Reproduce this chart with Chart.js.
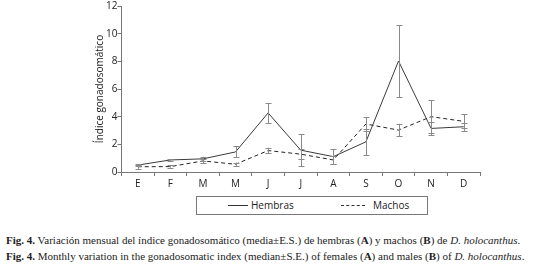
<!DOCTYPE html>
<html lang="es">
<head>
<meta charset="UTF-8">
<title>Índice gonadosomático</title>
<script src="https://cdn.jsdelivr.net/npm/chart.js"></script>
<style>
  body { margin: 0; background: #fff; width: 553px; height: 268px; overflow: hidden; position: relative; }
  #wrap { position: absolute; left: 0; top: 0; width: 553px; height: 192px; }
  .legend { position: absolute; left: 196px; top: 196px; width: 230px; height: 17px; border: 1px solid #777;
            font-family: "Open Sans", sans-serif; font-size: 10px; color: #222; }
  .legend span { position: absolute; top: 1px; }
  .legend i { position: absolute; top: 8px; width: 20px; border-top: 1px solid #333; }
  .caption { position: absolute; left: 6px; font-family: "Liberation Serif", serif; font-size: 11px; color: #222; white-space: nowrap; }
</style>
</head>
<body>
<div id="wrap"><canvas id="igs"></canvas></div>
<div class="legend">
  <i style="left:31px"></i><span style="left:54px">Hembras</span>
  <i style="left:144px;width:24px;border-top-style:dashed"></i><span style="left:176px">Machos</span>
</div>
<div class="caption" style="top:234px"><b>Fig. 4.</b> Variación mensual del índice gonadosomático (media±E.S.) de hembras (<b>A</b>) y machos (<b>B</b>) de <i>D. holocanthus</i>.</div>
<div class="caption" style="top:250px"><b>Fig. 4.</b> Monthly variation in the gonadosomatic index (median±S.E.) of females (<b>A</b>) and males (<b>B</b>) of <i>D. holocanthus</i>.</div>

<script>
const meses = ['E', 'F', 'M', 'M', 'J', 'J', 'A', 'S', 'O', 'N', 'D'];
const hembras = [0.5, 0.87, 0.95, 1.45, 4.27, 1.58, 1.11, 2.18, 8.02, 3.15, 3.27];
const hembrasErr = [0.08, 0.05, 0.15, 0.4, 0.72, 1.17, 0.55, 0.95, 2.6, 0.5, 0.3];
const machos = [0.38, 0.39, 0.8, 0.56, 1.55, 1.29, 0.87, 3.47, 3.03, 4.0, 3.66];
const machosErr = [0.15, 0.08, 0.15, 0.12, 0.2, 0.35, 0.3, 0.5, 0.45, 1.2, 0.5];
const yTicks = [0, 2, 4, 6, 8, 10, 12];

// barras de error con las escalas del grafico
const errorBars = {
  id: 'errorBars',
  afterDatasetsDraw(chart) {
    const ctx = chart.ctx;
    const y = chart.scales.y;
    chart.data.datasets.forEach((ds, di) => {
      const meta = chart.getDatasetMeta(di);
      ctx.save();
      ctx.strokeStyle = '#8a8a8a';
      ctx.lineWidth = 1;
      meta.data.forEach((pt, i) => {
        const v = ds.data[i], e = ds.err[i];
        const top = y.getPixelForValue(v + e), bot = y.getPixelForValue(v - e);
        const x = Math.round(pt.x) + 0.5;
        ctx.beginPath();
        ctx.moveTo(x, top); ctx.lineTo(x, bot);
        ctx.moveTo(x - 3, Math.round(top) + 0.5); ctx.lineTo(x + 3, Math.round(top) + 0.5);
        ctx.moveTo(x - 3, Math.round(bot) + 0.5); ctx.lineTo(x + 3, Math.round(bot) + 0.5);
        ctx.stroke();
      });
      ctx.restore();
    });
  }
};

new Chart(document.getElementById('igs'), {
  type: 'line',
  data: {
    labels: meses,
    datasets: [
      { label: 'Hembras', data: hembras, err: hembrasErr, borderColor: '#3a3a3a', borderWidth: 1, pointRadius: 0, tension: 0 },
      { label: 'Machos', data: machos, err: machosErr, borderColor: '#222', borderWidth: 1, borderDash: [4, 3], pointRadius: 0, tension: 0 }
    ]
  },
  options: {
    responsive: true,
    maintainAspectRatio: false,
    animation: false,
    layout: { padding: { left: 94, right: 73, top: 0, bottom: 0 } },
    plugins: { legend: { display: false }, tooltip: { enabled: false } },
    scales: {
      x: {
        offset: true,
        grid: { offset: true, drawOnChartArea: false, tickLength: 4, color: '#777' },
        border: { color: '#777' },
        ticks: { color: '#222', font: { family: 'Open Sans', size: 10 }, padding: 2 }
      },
      y: {
        min: 0, max: 12,
        afterBuildTicks: axis => { axis.ticks = yTicks.map(v => ({ value: v })); },
        grid: { drawOnChartArea: false, tickLength: 4, color: '#777' },
        border: { color: '#777' },
        ticks: { color: '#222', font: { family: 'Open Sans', size: 10 }, padding: 0 },
        title: { display: true, text: 'Índice gonadosomático', color: '#222', font: { family: 'Open Sans', size: 10 }, padding: 0 }
      }
    }
  },
  plugins: [errorBars]
});
</script>
</body>
</html>
